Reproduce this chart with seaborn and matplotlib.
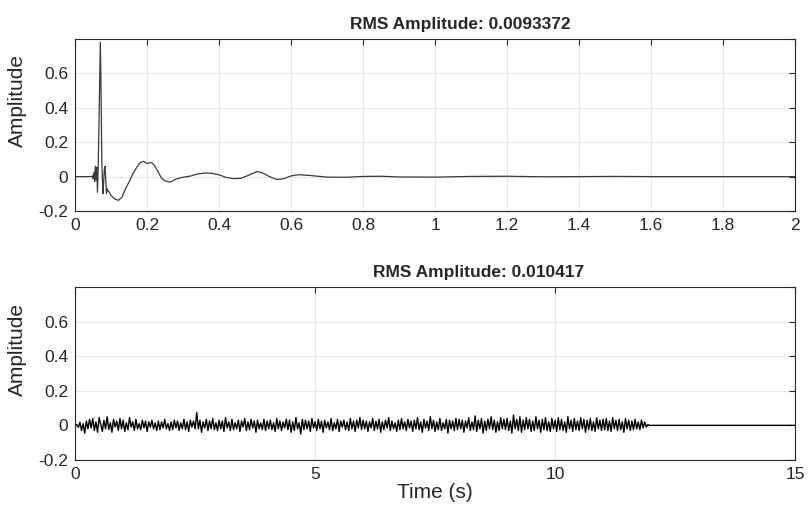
import numpy as np
import pandas as pd
import seaborn as sns
import matplotlib.pyplot as plt

# top panel: measured impulse response (time in s, amplitude)
ir_time = [0.0, 0.045, 0.048, 0.050, 0.052, 0.054, 0.056, 0.058, 0.060, 0.062,
           0.064, 0.067, 0.070, 0.072, 0.074, 0.077, 0.079, 0.081, 0.083, 0.085,
           0.087, 0.089, 0.092, 0.095, 0.100, 0.110, 0.120, 0.130, 0.140, 0.150,
           0.160, 0.170, 0.180, 0.190, 0.200, 0.207, 0.213, 0.220, 0.230, 0.240,
           0.250, 0.264, 0.280, 0.296, 0.320, 0.340, 0.360, 0.380, 0.400, 0.420,
           0.440, 0.460, 0.480, 0.505, 0.520, 0.540, 0.560, 0.580, 0.600, 0.620,
           0.650, 0.700, 0.750, 0.800, 0.850, 0.900, 1.000, 1.100, 1.200, 1.300,
           1.400, 1.500, 1.600, 2.000]
ir_amp = [0.0, 0.0, 0.004, -0.012, 0.022, -0.03, 0.06, -0.02, 0.055, -0.09,
          0.05, 0.4, 0.78, 0.5, 0.1, -0.1, -0.04, 0.04, 0.06, -0.02,
          -0.1, -0.07, -0.085, -0.09, -0.11, -0.13, -0.138, -0.12, -0.07, -0.03,
          0.015, 0.05, 0.08, 0.089, 0.076, 0.08, 0.081, 0.065, 0.03, -0.01,
          -0.025, -0.032, -0.015, -0.005, 0.003, 0.015, 0.021, 0.019, 0.01, -0.005,
          -0.012, -0.01, 0.006, 0.029, 0.022, 0.0, -0.017, -0.012, 0.004, 0.011,
          0.007, -0.003, -0.004, 0.001, 0.002, -0.002, -0.003, 0.001, 0.002, -0.001,
          0.0, 0.001, 0.0, 0.0]

# bottom panel: noise recording, 30 samples per second for 12 s, then silence
noise_fs = 30
noise_end = 15.0
noise_amp = [
    0.0, 0.004, -0.012, 0.018, -0.03, 0.01, -0.045, 0.025, -0.02, 0.035, -0.015, 0.04, -0.03, 0.02, -0.04,
    0.045, 0.005, -0.035, 0.03, -0.02, 0.05, -0.025, 0.015, -0.04, 0.035, -0.01, 0.025, -0.03, 0.04, -0.02,
    0.03, -0.035, 0.015, -0.025, 0.045, -0.01, 0.02, -0.03, 0.035, -0.02, 0.01, -0.025, 0.03, -0.015, 0.025,
    -0.035, 0.02, -0.01, 0.03, -0.02, 0.015, -0.03, 0.025, -0.025, 0.02, -0.015, 0.035, -0.02, 0.01, -0.03,
    0.02, -0.025, 0.03, -0.015, 0.025, -0.03, 0.015, -0.02, 0.035, -0.025, 0.02, -0.035, 0.03, -0.01, 0.025,
    -0.02, 0.075, -0.02, 0.03, -0.04, 0.02, -0.015, 0.035, -0.03, 0.025, -0.02, 0.04, -0.025, 0.015, -0.03,
    0.03, -0.02, 0.025, -0.035, 0.045, -0.015, 0.02, -0.03, 0.035, -0.025, 0.015, -0.02, 0.03, -0.035, 0.025,
    -0.01, 0.04, -0.03, 0.02, -0.025, 0.035, -0.015, 0.025, -0.04, 0.03, -0.02, 0.015, -0.025, 0.035, -0.03,
    0.025, -0.02, 0.03, -0.025, 0.015, -0.035, 0.04, -0.02, 0.025, -0.03, 0.02, -0.015, 0.035, -0.025, 0.03,
    -0.04, 0.02, -0.03, 0.045, -0.02, 0.015, -0.05, 0.035, -0.025, 0.03, -0.02, 0.025, -0.035, 0.04, -0.015,
    0.02, -0.03, 0.035, -0.02, 0.025, -0.04, 0.03, -0.015, 0.02, -0.025, 0.04, -0.03, 0.015, -0.02, 0.035,
    -0.035, 0.025, -0.01, 0.03, -0.025, 0.02, -0.03, 0.04, -0.02, 0.025, -0.035, 0.03, -0.015, 0.045, -0.025,
    0.03, -0.02, 0.025, -0.035, 0.02, -0.015, 0.04, -0.03, 0.025, -0.02, 0.035, -0.04, 0.02, -0.025, 0.03,
    -0.015, 0.045, -0.03, 0.025, -0.02, 0.015, -0.035, 0.03, -0.025, 0.04, -0.02, 0.02, -0.03, 0.035, -0.015,
    0.025, -0.035, 0.03, -0.02, 0.045, -0.025, 0.02, -0.04, 0.035, -0.015, 0.025, -0.03, 0.05, -0.02, 0.03,
    -0.035, 0.02, -0.025, 0.04, -0.03, 0.015, -0.02, 0.035, -0.045, 0.03, -0.02, 0.025, -0.03, 0.04, -0.025,
    0.035, -0.02, 0.03, -0.04, 0.025, -0.015, 0.045, -0.03, 0.02, -0.025, 0.055, -0.035, 0.03, -0.02, 0.04,
    -0.045, 0.025, -0.03, 0.035, -0.02, 0.05, -0.025, 0.03, -0.04, 0.02, -0.03, 0.045, -0.02, 0.035, -0.025,
    0.04, -0.03, 0.025, -0.045, 0.06, -0.02, 0.035, -0.03, 0.05, -0.04, 0.03, -0.025, 0.045, -0.02, 0.035,
    -0.035, 0.025, -0.03, 0.05, -0.02, 0.03, -0.04, 0.035, -0.025, 0.045, -0.03, 0.02, -0.035, 0.04, -0.02,
    0.03, -0.035, 0.045, -0.025, 0.035, -0.03, 0.02, -0.04, 0.05, -0.02, 0.03, -0.035, 0.04, -0.025, 0.025,
    -0.03, 0.045, -0.02, 0.035, -0.04, 0.03, -0.025, 0.04, -0.03, 0.02, -0.035, 0.045, -0.02, 0.03, -0.03,
    0.035, -0.025, 0.04, -0.03, 0.025, -0.035, 0.045, -0.02, 0.03, -0.03, 0.035, -0.025, 0.02, -0.04, 0.04,
    -0.02, 0.03, -0.03, 0.025, -0.025, 0.035, -0.02, 0.02, -0.025, 0.03, -0.015, 0.02, -0.01, 0.005, 0.0,
]

titles = ["RMS Amplitude: 0.0093372", "RMS Amplitude: 0.010417"]

sns.set_theme(style="white")
plt.rcParams['font.family'] = ['Liberation Sans', 'DejaVu Sans']
plt.rcParams['axes.unicode_minus'] = False

ir_df = pd.DataFrame({'t': ir_time, 'a': ir_amp})
noise_t = list(np.arange(len(noise_amp)) / noise_fs) + [noise_end]
noise_df = pd.DataFrame({'t': noise_t, 'a': noise_amp + [0.0]})

fig = plt.figure(figsize=(8.08, 5.11), dpi=100)
ax1 = fig.add_axes([0.093, 0.587, 0.891, 0.337])
ax2 = fig.add_axes([0.093, 0.100, 0.891, 0.338])

sns.lineplot(data=ir_df, x='t', y='a', ax=ax1, color='#3a3a3a', linewidth=0.9,
             estimator=None, sort=False)
sns.lineplot(data=noise_df, x='t', y='a', ax=ax2, color='black', linewidth=1.0,
             estimator=None, sort=False)

ax1.set_xlim(0, 2)
ax1.set_xticks(np.arange(0, 2.01, 0.2))
ax1.set_xticklabels(['0', '0.2', '0.4', '0.6', '0.8', '1', '1.2', '1.4', '1.6', '1.8', '2'])
ax2.set_xlim(0, 15)
ax2.set_xticks([0, 5, 10, 15])
ax2.set_xticklabels(['0', '5', '10', '15'])

for ax, title, tx in zip([ax1, ax2], titles, [0.535, 0.56]):
    ax.set_ylim(-0.2, 0.8)
    ax.set_yticks([-0.2, 0, 0.2, 0.4, 0.6, 0.8])
    ax.set_yticklabels(['-0.2', '0', '0.2', '0.4', '0.6', ''])
    ax.grid(True, color='#e6e6e6', linewidth=0.8)
    ax.set_axisbelow(True)
    ax.tick_params(direction='in', top=True, right=True, length=4, width=0.8,
                   color='#262626', labelsize=12.5, pad=5)
    for s in ax.spines.values():
        s.set_color('#262626')
        s.set_linewidth(0.8)
    ax.set_title(title, fontsize=12.5, fontweight='bold', pad=7, x=tx)
    ax.set_ylabel('Amplitude', fontsize=15)
    ax.yaxis.set_label_coords(-0.067, 0.64)
    ax.set_xlabel('')

ax2.set_xlabel('Time (s)', fontsize=15, labelpad=1)

fig.savefig('out.png', dpi=100)
